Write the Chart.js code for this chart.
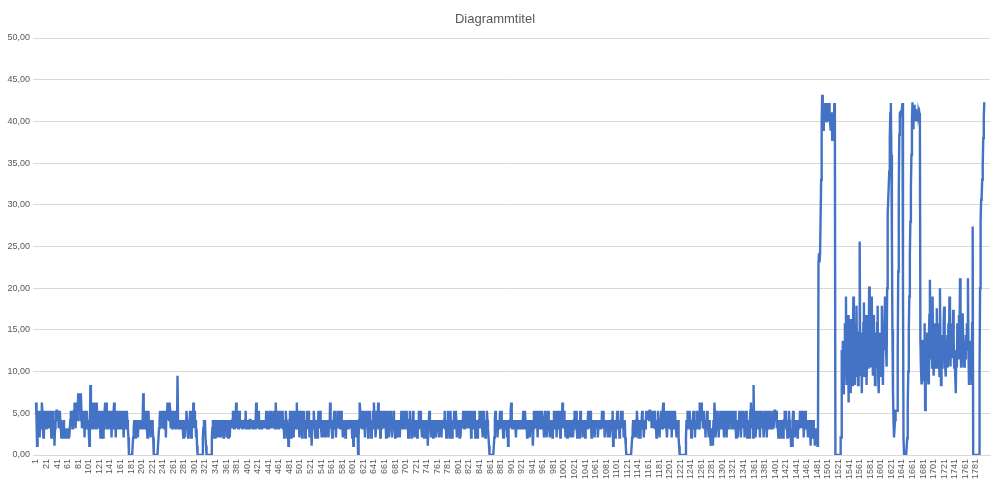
<!DOCTYPE html>
<html>
<head>
<meta charset="utf-8">
<script src="https://cdn.jsdelivr.net/npm/chart.js@4.4.1/dist/chart.umd.min.js"></script>
<style>
  html, body { margin: 0; padding: 0; background: #fff; }
  #wrap { width: 999px; height: 486px; }
</style>
</head>
<body>
<div id="wrap"><canvas id="myChart" width="999" height="486"></canvas></div>
<script>
"use strict";

const chartTitle = "Diagrammtitel";
const yTickValues = [0, 5, 10, 15, 20, 25, 30, 35, 40, 45, 50];

// values, 200 points per array (index 1..1797)
const part1 = [
  6.3, 4.2, 1.1, 2.1, 5.3, 3.2, 4.2, 2.1, 5.3, 4.2, 3.2, 6.3, 5.3, 3.2, 2.1, 4.2, 3.2, 5.3, 4.2, 3.2,
  4.2, 5.3, 3.2, 4.2, 5.3, 4.2, 3.2, 5.3, 4.2, 2.1, 4.2, 5.3, 4.2, 3.2, 4.2, 1.1, 3.2, 5.3, 4.2, 5.3,
  5.3, 4.2, 5.3, 3.2, 4.2, 5.3, 4.2, 3.2, 2.1, 3.2, 2.1, 3.2, 4.2, 3.2, 2.1, 2.1, 3.2, 2.1, 3.2, 2.1,
  3.2, 2.1, 3.2, 2.1, 2.1, 4.2, 5.3, 4.2, 5.3, 3.2, 5.3, 4.2, 5.3, 6.3, 4.2, 3.2, 6.3, 5.3, 4.2, 5.3,
  7.4, 6.3, 5.3, 7.4, 4.2, 7.4, 5.3, 3.2, 4.2, 5.3, 3.2, 4.2, 2.1, 5.3, 4.2, 3.2, 5.3, 4.2, 3.2, 4.2,
  4.2, 1.1, 3.2, 8.4, 5.3, 3.2, 6.3, 4.2, 3.2, 5.3, 6.3, 3.2, 4.2, 5.3, 3.2, 6.3, 4.2, 3.2, 5.3, 4.2,
  5.3, 4.2, 2.1, 5.3, 4.2, 3.2, 5.3, 2.1, 4.2, 3.2, 5.3, 6.3, 5.3, 6.3, 4.2, 3.2, 5.3, 4.2, 3.2, 5.3,
  4.2, 3.2, 5.3, 2.1, 4.2, 5.3, 3.2, 5.3, 6.3, 4.2, 5.3, 2.1, 4.2, 3.2, 5.3, 4.2, 3.2, 5.3, 4.2, 3.2,
  5.3, 3.2, 4.2, 5.3, 3.2, 4.2, 2.1, 4.2, 5.3, 3.2, 4.2, 3.2, 5.3, 4.2, 3.2, 2.1, 0, 0, 0, 0,
  0, 0, 0, 0, 2.1, 3.2, 4.2, 3.2, 2.1, 4.2, 3.2, 4.2, 3.2, 2.1, 4.2, 3.2, 4.2, 3.2, 4.2, 3.2
];
const part2 = [
  4.2, 3.2, 4.2, 7.4, 3.2, 4.2, 5.3, 3.2, 4.2, 5.3, 3.2, 2.1, 4.2, 5.3, 3.2, 4.2, 3.2, 2.1, 4.2, 3.2,
  4.2, 3.2, 2.1, 0, 0, 0, 0, 0, 0, 0, 0, 0, 2.1, 3.2, 4.2, 5.3, 3.2, 4.2, 5.3, 4.2,
  3.2, 5.3, 4.2, 3.2, 5.3, 4.2, 2.1, 5.3, 4.2, 6.3, 5.3, 6.3, 4.2, 6.3, 5.3, 3.2, 4.2, 5.3, 3.2, 4.2,
  5.3, 3.2, 4.2, 5.3, 3.2, 4.2, 5.3, 3.2, 9.5, 4.2, 3.2, 3.2, 4.2, 3.2, 4.2, 3.2, 3.2, 4.2, 3.2, 2.1,
  3.2, 4.2, 2.1, 4.2, 3.2, 5.3, 4.2, 3.2, 2.1, 4.2, 3.2, 4.2, 5.3, 3.2, 2.1, 4.2, 5.3, 3.2, 6.3, 4.2,
  5.3, 3.2, 4.2, 2.1, 3.2, 1.1, 0, 0, 0, 0, 0, 0, 0, 0, 0, 0, 2.1, 3.2, 4.2, 3.2,
  4.2, 2.1, 1.1, 0, 0, 0, 0, 0, 0, 0, 0, 0, 0, 2.1, 3.2, 4.2, 2.1, 3.2, 4.2, 2.1,
  3.2, 4.2, 2.1, 4.2, 3.2, 4.2, 2.1, 3.2, 4.2, 3.2, 2.1, 4.2, 3.2, 4.2, 3.2, 2.1, 4.2, 3.2, 4.2, 3.2,
  4.2, 2.1, 3.2, 4.2, 2.1, 4.2, 3.2, 2.1, 4.2, 3.2, 4.2, 3.2, 4.2, 5.3, 4.2, 3.2, 4.2, 5.3, 4.2, 6.3,
  3.2, 5.3, 4.2, 3.2, 4.2, 5.3, 3.2, 4.2, 3.2, 4.2, 4.2, 3.2, 4.2, 3.2, 4.2, 3.2, 4.2, 5.3, 3.2, 4.2
];
const part3 = [
  3.2, 4.2, 3.2, 4.2, 3.2, 4.2, 4.2, 3.2, 4.2, 3.2, 4.2, 3.2, 4.2, 3.2, 4.2, 3.2, 4.2, 6.3, 3.2, 4.2,
  3.2, 4.2, 5.3, 3.2, 4.2, 3.2, 4.2, 3.2, 4.2, 3.2, 4.2, 3.2, 4.2, 3.2, 4.2, 3.2, 5.3, 4.2, 3.2, 4.2,
  3.2, 4.2, 5.3, 3.2, 4.2, 3.2, 5.3, 4.2, 3.2, 4.2, 3.2, 5.3, 4.2, 3.2, 6.3, 4.2, 3.2, 5.3, 4.2, 3.2,
  4.2, 5.3, 3.2, 4.2, 5.3, 3.2, 4.2, 5.3, 3.2, 4.2, 2.1, 4.2, 3.2, 5.3, 4.2, 3.2, 2.1, 3.2, 1.1, 3.2,
  4.2, 5.3, 3.2, 2.1, 4.2, 5.3, 3.2, 4.2, 2.1, 5.3, 4.2, 3.2, 5.3, 4.2, 6.3, 3.2, 4.2, 5.3, 3.2, 2.1,
  4.2, 3.2, 5.3, 4.2, 2.1, 3.2, 4.2, 5.3, 3.2, 4.2, 2.1, 4.2, 3.2, 5.3, 4.2, 3.2, 5.3, 4.2, 2.1, 3.2,
  4.2, 3.2, 1.1, 3.2, 4.2, 3.2, 5.3, 4.2, 3.2, 2.1, 4.2, 3.2, 4.2, 2.1, 3.2, 5.3, 4.2, 3.2, 5.3, 4.2,
  3.2, 2.1, 4.2, 3.2, 4.2, 2.1, 3.2, 4.2, 3.2, 2.1, 4.2, 3.2, 4.2, 3.2, 2.1, 4.2, 3.2, 6.3, 3.2, 4.2,
  3.2, 2.1, 4.2, 3.2, 4.2, 5.3, 3.2, 4.2, 2.1, 4.2, 3.2, 5.3, 4.2, 3.2, 4.2, 5.3, 3.2, 4.2, 5.3, 3.2,
  4.2, 2.1, 3.2, 4.2, 3.2, 4.2, 2.1, 3.2, 4.2, 3.2, 4.2, 3.2, 4.2, 3.2, 3.2, 4.2, 3.2, 4.2, 3.2, 2.1
];
const part4 = [
  3.2, 1.1, 4.2, 3.2, 2.1, 4.2, 3.2, 2.1, 4.2, 3.2, 0, 2.1, 4.2, 6.3, 5.3, 3.2, 4.2, 5.3, 3.2, 4.2,
  5.3, 3.2, 4.2, 2.1, 5.3, 4.2, 3.2, 5.3, 4.2, 2.1, 3.2, 4.2, 5.3, 3.2, 4.2, 2.1, 4.2, 3.2, 5.3, 4.2,
  6.3, 3.2, 4.2, 2.1, 3.2, 5.3, 4.2, 3.2, 6.3, 4.2, 3.2, 5.3, 2.1, 4.2, 3.2, 5.3, 4.2, 3.2, 5.3, 4.2,
  3.2, 5.3, 4.2, 2.1, 4.2, 3.2, 5.3, 4.2, 2.1, 3.2, 4.2, 5.3, 3.2, 4.2, 2.1, 4.2, 3.2, 5.3, 4.2, 3.2,
  2.1, 4.2, 3.2, 2.1, 4.2, 2.1, 3.2, 4.2, 3.2, 2.1, 4.2, 3.2, 5.3, 4.2, 3.2, 5.3, 4.2, 3.2, 5.3, 4.2,
  3.2, 4.2, 5.3, 3.2, 4.2, 2.1, 3.2, 4.2, 5.3, 3.2, 4.2, 2.1, 4.2, 3.2, 5.3, 4.2, 3.2, 2.1, 4.2, 3.2,
  4.2, 3.2, 2.1, 4.2, 3.2, 5.3, 4.2, 3.2, 5.3, 4.2, 3.2, 2.1, 4.2, 3.2, 4.2, 2.1, 3.2, 4.2, 3.2, 2.1,
  3.2, 4.2, 1.1, 3.2, 4.2, 5.3, 3.2, 4.2, 2.1, 3.2, 4.2, 3.2, 2.1, 4.2, 3.2, 4.2, 3.2, 2.1, 3.2, 4.2,
  3.2, 4.2, 3.2, 2.1, 4.2, 3.2, 4.2, 3.2, 2.1, 4.2, 3.2, 4.2, 3.2, 4.2, 5.3, 3.2, 4.2, 2.1, 4.2, 3.2,
  5.3, 4.2, 3.2, 2.1, 4.2, 5.3, 3.2, 4.2, 2.1, 3.2, 4.2, 3.2, 5.3, 4.2, 3.2, 5.3, 4.2, 2.1, 3.2, 4.2
];
const part5 = [
  3.2, 4.2, 2.1, 3.2, 2.1, 4.2, 3.2, 4.2, 3.2, 5.3, 4.2, 3.2, 5.3, 4.2, 3.2, 5.3, 4.2, 5.3, 3.2, 4.2,
  5.3, 3.2, 4.2, 5.3, 2.1, 4.2, 3.2, 5.3, 4.2, 3.2, 5.3, 4.2, 2.1, 3.2, 4.2, 3.2, 2.1, 4.2, 3.2, 4.2,
  5.3, 4.2, 3.2, 4.2, 5.3, 3.2, 2.1, 4.2, 5.3, 3.2, 4.2, 2.1, 4.2, 3.2, 5.3, 4.2, 3.2, 2.1, 1.1, 0,
  0, 0, 0, 0, 0, 0, 0, 0, 2.1, 4.2, 5.3, 4.2, 3.2, 4.2, 2.1, 3.2, 4.2, 3.2, 4.2, 5.3,
  4.2, 5.3, 3.2, 4.2, 3.2, 2.1, 4.2, 3.2, 4.2, 3.2, 4.2, 3.2, 2.1, 4.2, 1.1, 3.2, 4.2, 3.2, 4.2, 5.3,
  6.3, 4.2, 3.2, 4.2, 3.2, 4.2, 3.2, 4.2, 3.2, 2.1, 4.2, 3.2, 4.2, 3.2, 4.2, 3.2, 4.2, 3.2, 4.2, 3.2,
  4.2, 3.2, 4.2, 5.3, 4.2, 3.2, 5.3, 4.2, 3.2, 4.2, 2.1, 3.2, 4.2, 3.2, 4.2, 2.1, 3.2, 4.2, 3.2, 4.2,
  3.2, 1.1, 3.2, 5.3, 4.2, 3.2, 4.2, 5.3, 3.2, 4.2, 2.1, 4.2, 5.3, 3.2, 4.2, 5.3, 4.2, 3.2, 5.3, 4.2,
  3.2, 4.2, 2.1, 4.2, 5.3, 3.2, 4.2, 2.1, 3.2, 4.2, 5.3, 3.2, 4.2, 2.1, 4.2, 3.2, 4.2, 3.2, 2.1, 4.2,
  3.2, 5.3, 4.2, 3.2, 5.3, 4.2, 2.1, 5.3, 4.2, 3.2, 4.2, 5.3, 3.2, 2.1, 4.2, 5.3, 3.2, 6.3, 4.2, 3.2
];
const part6 = [
  5.3, 4.2, 3.2, 2.1, 4.2, 3.2, 2.1, 4.2, 3.2, 2.1, 3.2, 4.2, 3.2, 2.1, 4.2, 3.2, 4.2, 2.1, 3.2, 4.2,
  5.3, 3.2, 4.2, 5.3, 3.2, 2.1, 4.2, 3.2, 4.2, 2.1, 3.2, 5.3, 4.2, 3.2, 4.2, 2.1, 3.2, 4.2, 3.2, 4.2,
  2.1, 4.2, 3.2, 4.2, 3.2, 4.2, 5.3, 3.2, 4.2, 3.2, 5.3, 4.2, 2.1, 3.2, 4.2, 3.2, 4.2, 3.2, 2.1, 4.2,
  3.2, 4.2, 3.2, 4.2, 2.1, 3.2, 4.2, 3.2, 4.2, 3.2, 4.2, 3.2, 5.3, 4.2, 5.3, 3.2, 4.2, 2.1, 3.2, 4.2,
  3.2, 4.2, 3.2, 2.1, 4.2, 3.2, 4.2, 2.1, 3.2, 4.2, 3.2, 4.2, 5.3, 1.1, 3.2, 4.2, 3.2, 2.1, 4.2, 3.2,
  4.2, 5.3, 3.2, 4.2, 3.2, 2.1, 4.2, 3.2, 5.3, 4.2, 5.3, 3.2, 4.2, 2.1, 3.2, 4.2, 2.1, 1.1, 0, 0,
  0, 0, 0, 0, 0, 0, 0, 0, 0, 2.1, 3.2, 4.2, 2.1, 3.2, 4.2, 3.2, 2.1, 4.2, 5.3, 4.2,
  3.2, 2.1, 4.2, 3.2, 2.1, 4.2, 3.2, 4.2, 5.3, 3.2, 4.2, 2.1, 3.2, 4.2, 3.2, 4.2, 5.3, 4.2, 5.3, 4.2,
  5.3, 4.2, 5.3, 5.3, 4.2, 5.3, 3.2, 5.3, 4.2, 5.3, 3.2, 4.2, 5.3, 3.2, 4.2, 2.1, 4.2, 3.2, 5.3, 4.2,
  3.2, 2.1, 4.2, 3.2, 5.3, 4.2, 3.2, 5.3, 6.3, 4.2, 5.3, 3.2, 4.2, 5.3, 3.2, 2.1, 4.2, 5.3, 3.2, 4.2
];
const part7 = [
  5.3, 3.2, 4.2, 5.3, 2.1, 4.2, 3.2, 5.3, 4.2, 3.2, 5.3, 4.2, 3.2, 2.1, 4.2, 3.2, 4.2, 2.1, 1.1, 0,
  0, 0, 0, 0, 0, 0, 0, 0, 0, 0, 0, 2.1, 4.2, 3.2, 5.3, 4.2, 3.2, 4.2, 5.3, 3.2,
  4.2, 2.1, 4.2, 3.2, 4.2, 5.3, 3.2, 4.2, 2.1, 4.2, 3.2, 5.3, 4.2, 3.2, 4.2, 5.3, 3.2, 6.3, 4.2, 5.3,
  6.3, 4.2, 5.3, 3.2, 4.2, 5.3, 3.2, 4.2, 2.1, 4.2, 3.2, 5.3, 4.2, 3.2, 2.1, 4.2, 3.2, 2.1, 1.1, 3.2,
  1.1, 3.2, 1.1, 4.2, 3.2, 6.3, 4.2, 2.1, 3.2, 4.2, 5.3, 3.2, 4.2, 2.1, 4.2, 3.2, 5.3, 4.2, 3.2, 4.2,
  5.3, 3.2, 4.2, 2.1, 4.2, 5.3, 3.2, 4.2, 2.1, 5.3, 4.2, 3.2, 5.3, 4.2, 5.3, 4.2, 5.3, 3.2, 4.2, 5.3,
  4.2, 5.3, 3.2, 4.2, 5.3, 3.2, 2.1, 4.2, 3.2, 2.1, 4.2, 3.2, 5.3, 4.2, 3.2, 2.1, 4.2, 5.3, 3.2, 4.2,
  5.3, 4.2, 2.1, 4.2, 3.2, 5.3, 4.2, 2.1, 3.2, 4.2, 3.2, 2.1, 4.2, 5.3, 6.3, 4.2, 3.2, 5.3, 2.1, 8.4,
  4.2, 3.2, 5.3, 2.1, 4.2, 3.2, 4.2, 5.3, 3.2, 4.2, 5.3, 2.1, 4.2, 3.2, 4.2, 5.3, 3.2, 4.2, 2.1, 3.2,
  4.2, 5.3, 3.2, 4.2, 2.1, 4.2, 5.3, 3.2, 4.2, 3.2, 5.3, 4.2, 3.2, 4.2, 3.2, 5.3, 4.2, 3.2, 4.2, 5.3
];
const part8 = [
  5.3, 4.2, 5.3, 3.2, 4.2, 3.2, 2.1, 4.2, 3.2, 4.2, 3.2, 2.1, 4.2, 3.2, 4.2, 2.1, 3.2, 4.2, 5.3, 4.2,
  5.3, 3.2, 4.2, 2.1, 4.2, 3.2, 5.3, 4.2, 2.1, 3.2, 1.1, 3.2, 1.1, 4.2, 5.3, 3.2, 4.2, 2.1, 3.2, 4.2,
  3.2, 4.2, 2.1, 4.2, 3.2, 4.2, 3.2, 5.3, 4.2, 5.3, 3.2, 5.3, 4.2, 5.3, 2.1, 4.2, 3.2, 5.3, 4.2, 3.2,
  4.2, 3.2, 2.1, 4.2, 3.2, 2.1, 4.2, 1.1, 3.2, 4.2, 2.1, 3.2, 4.2, 2.1, 3.2, 1.1, 3.2, 2.1, 3.2, 2.1,
  1.1, 2.1, 23.1, 24.2, 23.1, 24.2, 24.2, 33.0, 40.0, 43.2, 42.2, 39.0, 41.1, 42.2, 40.0, 41.1, 42.2, 40.0, 41.1, 42.2,
  41.1, 40.0, 42.2, 41.1, 40.0, 38.9, 40.0, 41.1, 37.8, 40.0, 41.1, 38.9, 42.2, 41.1, 0, 0, 0, 0, 0, 0,
  0, 0, 0, 0, 2.1, 2.1, 12.6, 8.4, 13.7, 7.4, 12.6, 9.5, 15.8, 10.5, 19.0, 8.4, 14.7, 10.5, 16.8, 6.3,
  16.3, 9.5, 14.7, 7.4, 12.6, 16.3, 8.4, 13.7, 19.0, 9.5, 15.8, 8.4, 12.6, 10.5, 17.9, 9.5, 13.7, 8.4, 11.6, 14.7,
  25.6, 11.6, 9.5, 14.7, 7.4, 12.6, 10.5, 15.8, 18.3, 9.5, 13.7, 11.6, 16.8, 8.4, 12.6, 14.7, 10.5, 13.7, 20.2, 11.6,
  14.7, 10.5, 19.0, 12.6, 15.8, 9.5, 16.8, 11.6, 13.7, 8.4, 14.7, 12.6, 10.5, 15.8, 17.9, 9.5, 7.4, 12.6, 14.7, 10.5
];
const part9 = [
  13.7, 9.5, 17.9, 11.6, 8.4, 14.7, 12.6, 15.8, 19.0, 13.7, 12.6, 10.6, 20.0, 29.0, 30.5, 30.5, 34.0, 38.0, 41.0, 42.2,
  36.0, 26.0, 15.0, 8.0, 4.2, 2.1, 2.1, 4.2, 5.3, 5.3, 5.3, 5.3, 12.0, 22.0, 31.0, 38.4, 41.0, 41.1, 40.5, 41.1,
  41.5, 42.2, 20.0, 2.0, 0, 0, 0, 0, 0, 0, 2.0, 6.0, 10.0, 15.0, 19.0, 24.0, 28.0, 32.0, 36.0, 40.0,
  42.3, 39.2, 41.5, 42.0, 40.7, 41.5, 40.0, 41.3, 40.5, 41.0, 40.0, 41.1, 40.7, 41.0, 40.5, 13.8, 10.5, 8.6, 11.6, 12.6,
  13.8, 10.5, 9.0, 15.8, 5.4, 9.5, 12.6, 11.0, 14.7, 9.5, 8.6, 13.7, 16.8, 21.0, 11.6, 15.8, 12.9, 10.5, 19.0, 13.7,
  9.5, 11.4, 15.8, 10.5, 12.6, 14.7, 17.6, 10.5, 13.7, 11.8, 15.8, 9.5, 20.0, 12.6, 8.4, 13.7, 10.5, 14.4, 11.6, 15.8,
  17.8, 12.6, 10.5, 9.4, 13.7, 11.6, 14.4, 10.5, 15.8, 12.6, 19.0, 13.7, 10.6, 15.8, 12.6, 14.8, 11.6, 17.4, 13.7, 10.5,
  11.8, 9.5, 7.4, 12.6, 10.5, 15.8, 14.4, 11.6, 16.8, 12.6, 21.2, 13.7, 10.6, 14.7, 12.6, 17.0, 13.7, 11.6, 10.6, 13.7,
  11.6, 14.4, 12.6, 15.8, 13.7, 21.2, 12.6, 8.4, 11.6, 13.7, 10.6, 12.6, 8.4, 15.8, 27.4, 0, 0, 0, 0, 0,
  0, 0, 0, 0, 0, 0, 0, 10.0, 20.0, 28.0, 30.6, 31.0, 33.0, 34.6, 38.0, 40.5, 42.3
];

const values = [].concat(part1, part2, part3, part4, part5, part6, part7, part8, part9);
// category numbers 1..N, and the ones that carry a label (every 20th)
const categories = values.map((v, i) => i + 1);
const xTickLabels = categories.filter((c, i) => i % 20 === 0);

const tickFont = { family: "'Liberation Sans', Arial, sans-serif", size: 9 };

const config = {
  type: "line",
  data: {
    datasets: [{
      data: values.map((v, i) => ({ x: categories[i], y: v })),
      borderColor: "#4472C4",
      borderWidth: 2.4,
      pointRadius: 0,
      tension: 0,
      fill: false
    }]
  },
  options: {
    responsive: false,
    animation: false,
    layout: { padding: { left: 0, right: 9, top: 0, bottom: 0 } },
    plugins: {
      legend: { display: false },
      tooltip: { enabled: false },
      title: {
        display: true,
        text: chartTitle,
        color: "#595959",
        font: { family: "'Liberation Sans', Arial, sans-serif", size: 13, weight: "normal" },
        padding: { top: 11.5, bottom: 10.9 }
      }
    },
    scales: {
      x: {
        type: "linear",
        min: -4.7,
        max: 1807.8,
        grid: { display: false, drawTicks: false },
        border: { color: "#d9d9d9" },
        afterBuildTicks(axis) {
          axis.ticks = xTickLabels.map((v) => ({ value: v }));
        },
        ticks: {
          autoSkip: false,
          maxRotation: 90,
          minRotation: 90,
          padding: 4,
          color: "#595959",
          font: tickFont,
          callback: (v) => String(v)
        },
        afterFit(scale) { scale.height = 31; }
      },
      y: {
        min: 0,
        max: 50,
        grid: { color: "#d9d9d9", drawTicks: false },
        border: { display: false },
        afterBuildTicks(axis) {
          axis.ticks = yTickValues.map((v) => ({ value: v }));
        },
        ticks: {
          padding: 3,
          color: "#595959",
          font: tickFont,
          callback: (v) => v.toFixed(2).replace(".", ",")
        },
        afterFit(scale) { scale.width = 33; }
      }
    }
  }
};

const myChart = new Chart(document.getElementById("myChart"), config);
</script>
</body>
</html>
